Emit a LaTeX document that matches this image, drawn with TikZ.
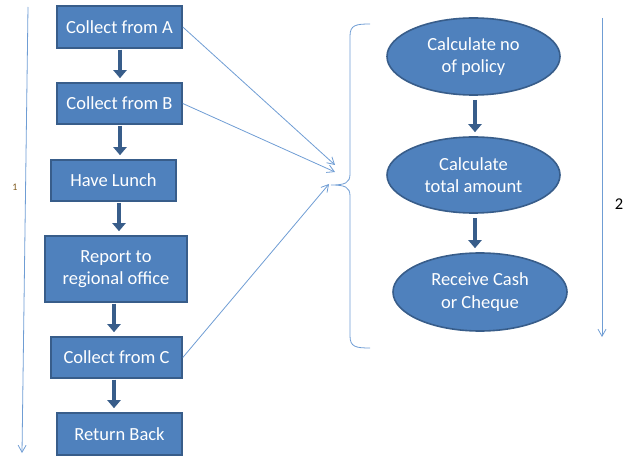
\documentclass[tikz,border=0pt]{standalone}
\usepackage{fontspec}
\setmainfont{Carlito}
\usetikzlibrary{arrows.meta,shapes.geometric}
\definecolor{boxfill}{HTML}{4F81BD}
\definecolor{boxline}{HTML}{385D8A}
\definecolor{thinline}{HTML}{6F9DD4}
\definecolor{labbrown}{HTML}{7F5A1E}
\begin{document}
\begin{tikzpicture}[x=1pt,y=-1pt,
  rbox/.style={draw=boxline,line width=1.6pt,fill=boxfill,text=white,inner sep=0pt,
    align=center,font=\fontsize{18.5}{22.5}\selectfont},
  ebox/.style={ellipse,draw=boxline,line width=1.6pt,fill=boxfill,text=white,inner sep=0pt,
    align=center,font=\fontsize{18.5}{22.5}\selectfont},
  fatarrow/.style={draw=boxline,line width=4.5pt,-{Triangle[length=8pt,width=13pt]},shorten >=4pt,shorten <=0.8pt},
  thinarrow/.style={draw=thinline,line width=0.8pt,-{Straight Barb[length=7pt,width=8pt]}},
  ]
\useasboundingbox (0,0) rectangle (640,457);
% left boxes
\node[rbox,minimum width=125pt,minimum height=42pt] (A) at (119.5,27) {Collect from A};
\node[rbox,minimum width=125pt,minimum height=41pt] (B) at (119.5,103.5) {Collect from B};
\node[rbox,minimum width=125pt,minimum height=41pt] (L) at (113.5,180.5) {Have Lunch};
\node[rbox,minimum width=142pt,minimum height=66pt] (R) at (116,269) {Report to\\regional office};
\node[rbox,minimum width=131pt,minimum height=41pt] (C) at (116.5,357.5) {Collect from C};
\node[rbox,minimum width=125pt,minimum height=42pt] (X) at (119.5,434) {Return Back};
% right ellipses
\node[ebox,minimum width=173pt,minimum height=77pt] (E1) at (473.5,56.5) {Calculate no\\of policy};
\node[ebox,minimum width=173pt,minimum height=76pt] (E2) at (473.5,175) {Calculate\\total amount};
\node[ebox,minimum width=174pt,minimum height=78pt] (E3) at (480,292) {Receive Cash\\or Cheque};
% thick arrows
\draw[fatarrow] ([xshift=0.5pt]A.south) -- ([xshift=0.5pt]A.south |- B.north);
\draw[fatarrow] ([xshift=0.5pt]B.south) -- ([xshift=0.5pt]B.south |- L.north);
\draw[fatarrow] ([xshift=5.5pt]L.south) -- ([xshift=5.5pt]L.south |- R.north);
\draw[fatarrow] ([xshift=-2pt]R.south) -- ([xshift=-2pt]R.south |- C.north);
\draw[fatarrow] ([xshift=-2.5pt]C.south) -- ([xshift=-2.5pt]C.south |- X.north);
\draw[fatarrow,shorten <=4pt] ([xshift=1.5pt]E1.south) -- ([xshift=1.5pt]E1.south |- E2.north);
\draw[fatarrow,shorten <=4pt] ([xshift=1.5pt]E2.south) -- ([xshift=1.5pt]E2.south |- E3.north);
% brace
\coordinate (bt) at (331,185);
\draw[thinline,line width=0.8pt] (370,24) .. controls (356,24) and (350,25) .. (350,36)
  -- (350,174) .. controls (350,183) and (345,185) .. (bt)
  .. controls (345,185) and (350,187) .. (350,196)
  -- (350,336) .. controls (350,347) and (356,348) .. (370,348);
% thin connectors
\coordinate (ta) at (335,165);
\coordinate (tb) at (335,172);
\coordinate (tc) at (329,184);
\draw[thinarrow] (A.east) -- (ta);
\draw[thinarrow] (B.east) -- (tb);
\draw[thinarrow] (C.east) -- (tc);
% side timelines
\coordinate (l1) at (28,7);
\coordinate (l2) at (22,453);
\draw[thinarrow] (l1) -- (l2);
\node[text=labbrown,font=\fontsize{10}{12}\selectfont,inner sep=0pt] (n1) at (15,187) {1};
\coordinate (r1) at (602,18);
\coordinate (r2) at (602,337);
\draw[thinarrow] (r1) -- (r2);
\node[font=\fontsize{16.5}{19}\selectfont,inner sep=0pt] (n2) at (619,204) {2};
\end{tikzpicture}
\end{document}
